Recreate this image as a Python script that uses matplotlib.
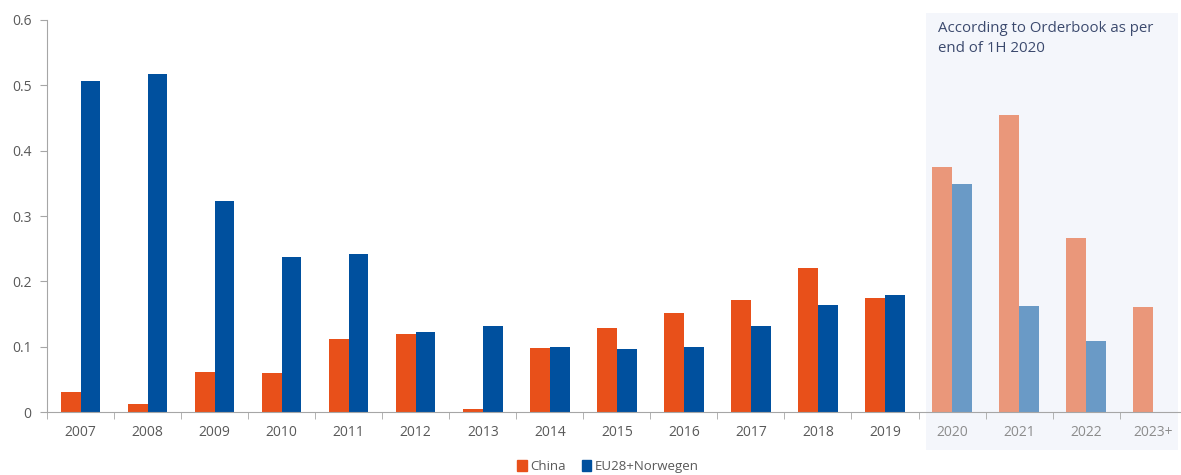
import matplotlib.pyplot as plt
import matplotlib.transforms as mtransforms
from matplotlib.patches import Rectangle
import numpy as np

plt.rcParams['font.family'] = ['Open Sans', 'DejaVu Sans']

years = ['2007', '2008', '2009', '2010', '2011', '2012', '2013', '2014', '2015',
         '2016', '2017', '2018', '2019', '2020', '2021', '2022', '2023+']
china = [0.031, 0.013, 0.062, 0.060, 0.111, 0.119, 0.004, 0.098, 0.129,
         0.152, 0.172, 0.220, 0.174, 0.375, 0.455, 0.266, 0.160]
eu = [0.506, 0.517, 0.323, 0.238, 0.242, 0.123, 0.131, 0.100, 0.097,
      0.099, 0.131, 0.164, 0.179, 0.349, 0.162, 0.109, 0.0]
n_actual = 13  # 2007-2019 actual, rest from orderbook

c_china = '#E8501A'
c_eu = '#00509E'
c_china_f = '#EA977A'
c_eu_f = '#6A9AC6'

fig = plt.figure(figsize=(11.81, 4.75), dpi=100)
ax = fig.add_axes([0.0398, 0.1326, 0.965, 0.8253])

x = np.arange(len(years))
w = 0.295
cc = [c_china if i < n_actual else c_china_f for i in range(len(years))]
ce = [c_eu if i < n_actual else c_eu_f for i in range(len(years))]

# shaded forecast region
trans = mtransforms.blended_transform_factory(ax.transData, ax.transAxes)
ax.add_patch(Rectangle((12.61, -0.097), 3.76, 1.115, transform=trans,
                       facecolor='#F4F6FB', edgecolor='none', clip_on=False, zorder=0))

ax.bar(x - w / 2, china, w, color=cc, label='China', zorder=2)
ax.bar(x + w / 2, eu, w, color=ce, label='EU28+Norwegen', zorder=2)

ax.set_xlim(-0.5, len(years) - 0.5)
ax.set_ylim(0, 0.6)
ax.set_yticks([0, 0.1, 0.2, 0.3, 0.4, 0.5, 0.6])
ax.set_yticklabels(['0', '0.1', '0.2', '0.3', '0.4', '0.5', '0.6'])
ax.set_xticks(x)
ax.set_xticklabels(years)
ax.set_xticks(np.arange(-0.5, len(years), 1), minor=True)
ax.tick_params(axis='x', which='major', length=0, pad=9, labelsize=10, labelcolor='#595959')
ax.tick_params(axis='x', which='minor', length=5, color='#A6A6A6', direction='out')
ax.tick_params(axis='y', length=5, color='#A6A6A6', labelsize=10, labelcolor='#595959', pad=6)
for lbl in ax.get_xticklabels()[n_actual:]:
    lbl.set_color('#8C8C8C')

for s in ['top', 'right']:
    ax.spines[s].set_visible(False)
for s in ['left', 'bottom']:
    ax.spines[s].set_color('#A6A6A6')
ax.set_facecolor('none')

ax.text(12.79, 0.997, 'According to Orderbook as per\nend of 1H 2020', transform=trans,
        ha='left', va='top', fontsize=10.8, color='#3C4A6E', linespacing=1.4)

handles = [Rectangle((0, 0), 1, 1, color=c_china), Rectangle((0, 0), 1, 1, color=c_eu)]
fig.legend(handles, ['China', 'EU28+Norwegen'], loc='center', bbox_to_anchor=(0.515, 0.018),
           ncol=2, frameon=False, fontsize=9.5, handlelength=0.7, handleheight=0.9,
           handletextpad=0.3, columnspacing=1.2, labelcolor='#595959')

fig.savefig('out.png', dpi=100)
